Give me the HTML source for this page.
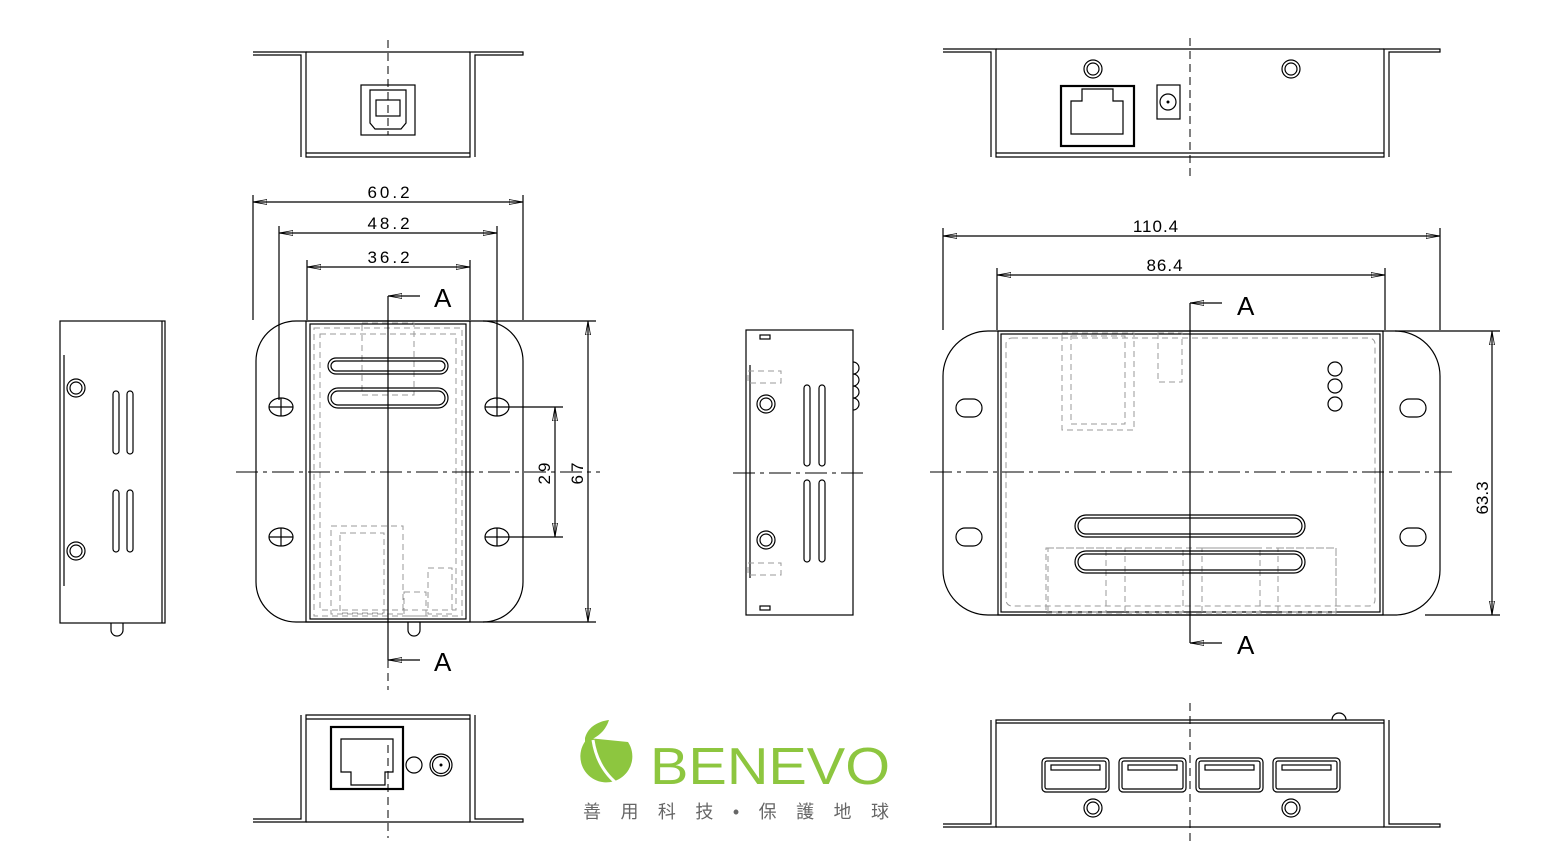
<!DOCTYPE html>
<html><head><meta charset="utf-8"><style>
html,body{margin:0;padding:0;background:#fff;width:1567px;height:861px;overflow:hidden}
svg{display:block}
.k{fill:none;stroke:#000;stroke-width:1.2}
.b{fill:none;stroke:#000;stroke-width:2.2}
.g{fill:none;stroke:#999;stroke-width:1;stroke-dasharray:6 4}
.c{fill:none;stroke:#000;stroke-width:1;stroke-dasharray:22 5 4 5}
.d{fill:none;stroke:#000;stroke-width:1;stroke-dasharray:8 5}
.t{font-family:"Liberation Sans",sans-serif;font-size:17px;letter-spacing:3px;fill:#000}
.A{font-family:"Liberation Sans",sans-serif;font-size:26px;fill:#000;font-weight:100}
</style></head><body>
<svg width="1567" height="861" viewBox="0 0 1567 861" xmlns="http://www.w3.org/2000/svg">
<defs>
<marker id="ar" markerWidth="14" markerHeight="6" refX="14" refY="3" orient="auto-start-reverse" markerUnits="userSpaceOnUse"><path d="M14,3 L0,0.5 L0,5.5 Z" fill="none" stroke="#000" stroke-width="0.8"/></marker>
</defs>

<!-- ========== LEFT TOP VIEW ========== -->
<path class="k" d="M253,52 H306 V157 H470 V52 H523 V55 H475 V157 M253,55 H301 V157"/>
<line class="k" x1="306" y1="52" x2="470" y2="52"/>
<line class="k" x1="306" y1="153" x2="470" y2="153"/>
<rect class="k" x="361" y="85" width="54" height="50"/>
<path class="k" d="M370,90 H406 V123 L401,129 H375 L370,123 Z"/>
<rect class="k" x="376" y="100" width="24" height="16"/>
<line class="d" x1="388" y1="40" x2="388" y2="135"/>

<!-- dims left -->
<line class="k" x1="253" y1="195" x2="253" y2="320"/>
<line class="k" x1="523" y1="195" x2="523" y2="320"/>
<line class="k" x1="279" y1="226" x2="279" y2="400"/>
<line class="k" x1="497" y1="226" x2="497" y2="400"/>
<line class="k" x1="307" y1="260" x2="307" y2="320"/>
<line class="k" x1="470" y1="260" x2="470" y2="320"/>
<line class="k" x1="253" y1="202" x2="523" y2="202" marker-start="url(#ar)" marker-end="url(#ar)"/>
<line class="k" x1="279" y1="233" x2="497" y2="233" marker-start="url(#ar)" marker-end="url(#ar)"/>
<line class="k" x1="307" y1="267" x2="470" y2="267" marker-start="url(#ar)" marker-end="url(#ar)"/>
<text class="t" x="390" y="198" text-anchor="middle">60.2</text>
<text class="t" x="390" y="229" text-anchor="middle">48.2</text>
<text class="t" x="390" y="263" text-anchor="middle">36.2</text>

<!-- left plan -->
<path class="k" d="M296,321 H483 A40,40 0 0 1 523,361 V582 A40,40 0 0 1 483,622 H296 A40,40 0 0 1 256,582 V361 A40,40 0 0 1 296,321 Z"/>
<rect class="k" x="306" y="321" width="164" height="301"/>
<rect class="k" x="310" y="324" width="156" height="295"/>
<rect class="g" x="314" y="328" width="148" height="288"/>
<rect class="g" x="320" y="334" width="136" height="276"/>
<rect class="g" x="362" y="323" width="52" height="72"/>
<rect class="g" x="331" y="526" width="72" height="88"/>
<rect class="g" x="340" y="533" width="44" height="80"/>
<rect class="g" x="428" y="568" width="24" height="46"/>
<rect class="g" x="404" y="592" width="22" height="24"/>
<rect class="k" x="328" y="358" width="120" height="16" rx="8"/>
<rect class="k" x="331" y="361" width="114" height="10" rx="5"/>
<rect class="k" x="328" y="388" width="120" height="20" rx="10"/>
<rect class="k" x="331" y="391" width="114" height="14" rx="7"/>
<g class="k">
<ellipse cx="281" cy="407" rx="12" ry="9"/><line x1="269" y1="407" x2="293" y2="407"/><line x1="281" y1="398" x2="281" y2="416"/>
<ellipse cx="497" cy="407" rx="12" ry="9"/><line x1="485" y1="407" x2="509" y2="407"/><line x1="497" y1="398" x2="497" y2="416"/>
<ellipse cx="281" cy="537" rx="12" ry="9"/><line x1="269" y1="537" x2="293" y2="537"/><line x1="281" y1="528" x2="281" y2="546"/>
<ellipse cx="497" cy="537" rx="12" ry="9"/><line x1="485" y1="537" x2="509" y2="537"/><line x1="497" y1="528" x2="497" y2="546"/>
</g>
<path class="k" d="M408,622 V630 A6,6 0 0 0 420,630 V622"/>
<line class="c" x1="236" y1="472" x2="600" y2="472"/>
<line class="k" x1="388" y1="296" x2="388" y2="660"/>
<line class="d" x1="388" y1="660" x2="388" y2="690"/>
<line class="k" x1="388" y1="296" x2="420" y2="296" marker-start="url(#ar)"/>
<line class="k" x1="388" y1="660" x2="420" y2="660" marker-start="url(#ar)"/>
<text class="A" x="434" y="307">A</text>
<text class="A" x="434" y="671">A</text>
<!-- 29 / 67 -->
<line class="k" x1="509" y1="407" x2="563" y2="407"/>
<line class="k" x1="509" y1="537" x2="563" y2="537"/>
<line class="k" x1="555" y1="407" x2="555" y2="537" marker-start="url(#ar)" marker-end="url(#ar)"/>
<line class="k" x1="483" y1="321" x2="596" y2="321"/>
<line class="k" x1="483" y1="622" x2="596" y2="622"/>
<line class="k" x1="588" y1="321" x2="588" y2="622" marker-start="url(#ar)" marker-end="url(#ar)"/>
<text class="t" transform="translate(550,472) rotate(-90)" text-anchor="middle">29</text>
<text class="t" transform="translate(583,472) rotate(-90)" text-anchor="middle">67</text>

<!-- left side view -->
<rect class="k" x="60" y="321" width="105" height="302"/>
<line class="k" x1="64" y1="355" x2="64" y2="586"/>
<line class="k" x1="162" y1="321" x2="162" y2="623"/>
<circle class="k" cx="76" cy="388" r="9"/><circle class="k" cx="76" cy="388" r="6"/>
<circle class="k" cx="76" cy="551" r="9"/><circle class="k" cx="76" cy="551" r="6"/>
<rect class="k" x="113" y="391" width="6" height="63" rx="3"/><rect class="k" x="127" y="391" width="6" height="63" rx="3"/>
<rect class="k" x="113" y="490" width="6" height="62" rx="3"/><rect class="k" x="127" y="490" width="6" height="62" rx="3"/>
<path class="k" d="M111,623 V630 A6,6 0 0 0 123,630 V623"/>

<!-- left bottom view -->
<path class="k" d="M253,822 H306 V715 H470 V822 H523 V819 H475 V715 M253,819 H301 V715"/>
<line class="k" x1="306" y1="719" x2="470" y2="719"/>
<line class="k" x1="306" y1="822" x2="470" y2="822"/>
<rect class="b" x="331" y="727" width="72" height="62"/>
<path class="k" d="M341,739 H393 V772 H385 V785 H351 V772 H341 Z"/>
<circle class="k" cx="414" cy="765" r="8"/>
<circle class="k" cx="441" cy="765" r="11"/><circle class="k" cx="441" cy="765" r="8.5"/><circle cx="441" cy="765" r="1.5"/>
<line class="d" x1="388" y1="745" x2="388" y2="838"/>

<!-- ========== LOGO ========== -->
<path d="M588,738 A26,26 0 1 0 628,742 Z" fill="#8dc63f"/>
<path d="M585,738 C588,726 600,721 609,720 C606,729 600,737 585,742 Z" fill="#8dc63f"/>
<path d="M593,740 C596,760 605,775 620,786" stroke="#fff" stroke-width="3" fill="none"/>
<text x="650" y="784" font-family="'Liberation Sans',sans-serif" font-size="52" fill="#8dc63f" textLength="240" lengthAdjust="spacingAndGlyphs">BENEVO</text>
<text x="583" y="818" font-family="'Liberation Sans','Noto Sans CJK TC',sans-serif" font-size="18" fill="#666" textLength="306" lengthAdjust="spacing">善用科技•保護地球</text>

<!-- ========== RIGHT TOP VIEW ========== -->
<path class="k" d="M943,49 H996 V157 H1384 V49 H1440 V52 H1389 V157 M943,52 H991 V157"/>
<line class="k" x1="996" y1="49" x2="1384" y2="49"/>
<line class="k" x1="996" y1="153" x2="1384" y2="153"/>
<circle class="k" cx="1093" cy="69" r="9"/><circle class="k" cx="1093" cy="69" r="6"/>
<circle class="k" cx="1291" cy="69" r="9"/><circle class="k" cx="1291" cy="69" r="6"/>
<rect class="b" x="1061" y="86" width="73" height="60"/>
<path class="k" d="M1082,89 H1113 V101 H1123 V134 H1071 V101 H1082 Z"/>
<rect class="k" x="1157" y="85" width="23" height="34"/>
<circle class="k" cx="1168" cy="102" r="8"/><circle cx="1168" cy="102" r="1.5"/>
<line class="d" x1="1190" y1="38" x2="1190" y2="178"/>

<!-- right dims -->
<line class="k" x1="943" y1="228" x2="943" y2="330"/>
<line class="k" x1="1440" y1="228" x2="1440" y2="330"/>
<line class="k" x1="997" y1="268" x2="997" y2="330"/>
<line class="k" x1="1385" y1="268" x2="1385" y2="330"/>
<line class="k" x1="943" y1="236" x2="1440" y2="236" marker-start="url(#ar)" marker-end="url(#ar)"/>
<line class="k" x1="997" y1="275" x2="1385" y2="275" marker-start="url(#ar)" marker-end="url(#ar)"/>
<text class="t" x="1156" y="232" text-anchor="middle" style="letter-spacing:1px">110.4</text>
<text class="t" x="1165" y="271" text-anchor="middle" style="letter-spacing:1px">86.4</text>

<!-- right plan -->
<path class="k" d="M988,331 H1395 A45,45 0 0 1 1440,376 V570 A45,45 0 0 1 1395,615 H988 A45,45 0 0 1 943,570 V376 A45,45 0 0 1 988,331 Z"/>
<rect class="k" x="998" y="331" width="385" height="284"/>
<rect class="k" x="1001" y="334" width="379" height="278"/>
<rect class="g" x="1006" y="338" width="369" height="268" rx="6"/>
<rect class="g" x="1062" y="333" width="72" height="97"/>
<rect class="g" x="1071" y="336" width="54" height="88"/>
<rect class="g" x="1158" y="333" width="24" height="49"/>
<rect class="g" x="1046" y="548" width="290" height="66"/>
<g class="g"><rect x="1048" y="548" width="58" height="64"/><rect x="1125" y="548" width="58" height="64"/><rect x="1202" y="548" width="58" height="64"/><rect x="1278" y="548" width="58" height="64"/></g>
<rect class="k" x="1075" y="515" width="230" height="22" rx="11"/>
<rect class="k" x="1078" y="518" width="224" height="16" rx="8"/>
<rect class="k" x="1075" y="551" width="230" height="22" rx="11"/>
<rect class="k" x="1078" y="554" width="224" height="16" rx="8"/>
<circle class="k" cx="1335" cy="369" r="7"/><circle class="k" cx="1335" cy="386" r="7"/><circle class="k" cx="1335" cy="404" r="7"/>
<g class="k">
<rect x="956" y="399" width="26" height="18" rx="9"/><rect x="1400" y="399" width="26" height="18" rx="9"/>
<rect x="956" y="528" width="26" height="18" rx="9"/><rect x="1400" y="528" width="26" height="18" rx="9"/>
</g>
<line class="c" x1="930" y1="472" x2="1452" y2="472"/>
<line class="k" x1="1190" y1="303" x2="1190" y2="643"/>
<line class="k" x1="1190" y1="303" x2="1222" y2="303" marker-start="url(#ar)"/>
<line class="k" x1="1190" y1="643" x2="1222" y2="643" marker-start="url(#ar)"/>
<text class="A" x="1237" y="315">A</text>
<text class="A" x="1237" y="654">A</text>
<line class="k" x1="1395" y1="331" x2="1500" y2="331"/>
<line class="k" x1="1425" y1="615" x2="1500" y2="615"/>
<line class="k" x1="1492" y1="331" x2="1492" y2="615" marker-start="url(#ar)" marker-end="url(#ar)"/>
<text class="t" transform="translate(1488,498) rotate(-90)" text-anchor="middle" style="letter-spacing:0px">63.3</text>

<!-- middle side view -->
<rect class="k" x="746" y="330" width="107" height="285"/>
<line class="k" x1="750" y1="365" x2="750" y2="578"/>
<rect class="k" x="760" y="335" width="10" height="4"/><rect class="k" x="760" y="606" width="10" height="4"/>
<rect class="g" x="748" y="371" width="33" height="12"/><rect class="g" x="748" y="563" width="33" height="12"/>
<circle class="k" cx="766" cy="404" r="9"/><circle class="k" cx="766" cy="404" r="6"/>
<circle class="k" cx="766" cy="540" r="9"/><circle class="k" cx="766" cy="540" r="6"/>
<rect class="k" x="804" y="385" width="6" height="81" rx="3"/><rect class="k" x="819" y="385" width="6" height="81" rx="3"/>
<rect class="k" x="804" y="480" width="6" height="82" rx="3"/><rect class="k" x="819" y="480" width="6" height="82" rx="3"/>
<path class="k" d="M853,362 A6,6 0 0 1 853,374 A6,6 0 0 1 853,386 A6,6 0 0 1 853,398 A6,6 0 0 1 853,410"/>
<line class="c" x1="733" y1="473" x2="868" y2="473"/>

<!-- right bottom view -->
<path class="k" d="M943,827 H996 V720 H1384 V827 H1440 V824 H1389 V720 M943,824 H991 V720"/>
<line class="k" x1="996" y1="723" x2="1384" y2="723"/>
<line class="k" x1="996" y1="827" x2="1384" y2="827"/>
<g class="k">
<rect x="1042" y="758" width="67" height="34" rx="4"/><rect x="1045" y="761" width="61" height="28" rx="2"/><rect x="1051" y="765" width="49" height="5"/>
<rect x="1119" y="758" width="67" height="34" rx="4"/><rect x="1122" y="761" width="61" height="28" rx="2"/><rect x="1128" y="765" width="49" height="5"/>
<rect x="1196" y="758" width="67" height="34" rx="4"/><rect x="1199" y="761" width="61" height="28" rx="2"/><rect x="1205" y="765" width="49" height="5"/>
<rect x="1273" y="758" width="67" height="34" rx="4"/><rect x="1276" y="761" width="61" height="28" rx="2"/><rect x="1282" y="765" width="49" height="5"/>
</g>
<circle class="k" cx="1093" cy="808" r="9"/><circle class="k" cx="1093" cy="808" r="6"/>
<circle class="k" cx="1291" cy="808" r="9"/><circle class="k" cx="1291" cy="808" r="6"/>
<path class="k" d="M1332,720 A7,7 0 0 1 1346,720"/>
<line class="d" x1="1190" y1="703" x2="1190" y2="845"/>
</svg>
</body></html>
